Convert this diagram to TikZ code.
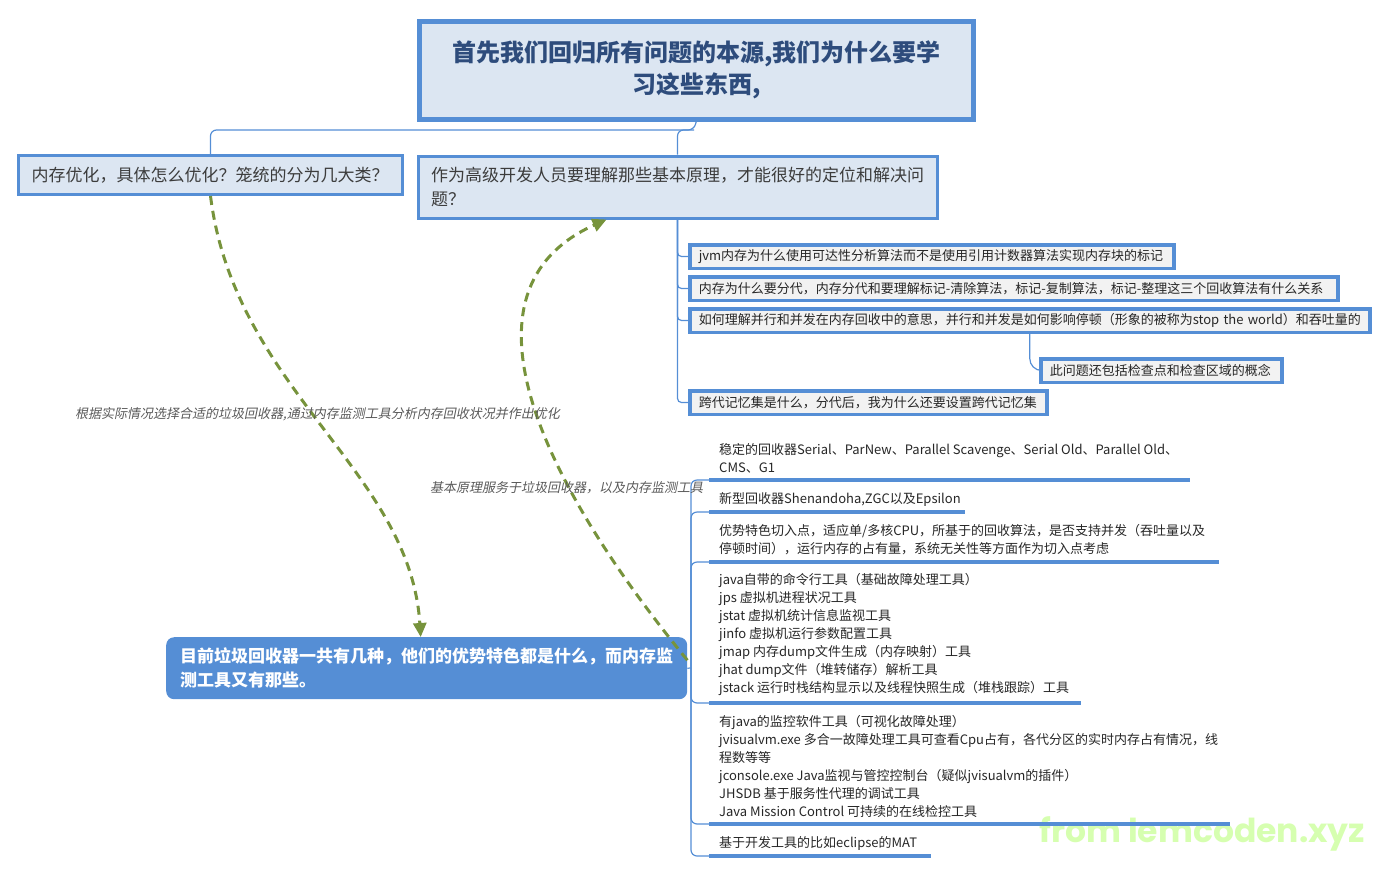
\documentclass[tikz,border=0pt]{standalone}
\usepackage{fontspec}
\setmainfont{Noto Sans CJK SC}
\newfontfamily\slfont{Noto Sans CJK SC}[FakeSlant=0.2]
\newfontfamily\wmfont{Poppins}
\usetikzlibrary{arrows.meta,backgrounds}
\definecolor{bblue}{RGB}{85,142,213}
\definecolor{lblue}{RGB}{220,230,242}
\definecolor{lgray}{RGB}{242,242,242}
\definecolor{ttblue}{RGB}{46,76,124}
\definecolor{tgray}{RGB}{60,60,60}
\definecolor{dgreen}{RGB}{119,147,60}
\definecolor{wmgreen}{RGB}{214,255,176}
\definecolor{lblgray}{RGB}{89,89,89}
\newcommand{\fsz}[2]{\fontsize{#1}{#2}\selectfont}
\begin{document}
\begin{tikzpicture}[x=1pt,y=-1pt,
 conn/.style={draw=bblue, line width=1.2pt},
 topbox/.style={draw=bblue, fill=lblue, line width=3pt, anchor=north west, inner xsep=13pt, inner ysep=0pt, align=left, text=tgray, font=\fsz{17}{24}},
 qbox/.style={draw=bblue, fill=lgray, line width=3.5pt, anchor=north west, inner xsep=9pt, inner ysep=0pt, align=left, text=black!85, font=\fsz{13}{18}, minimum height=23.5pt},
 itemtxt/.style={anchor=west, inner sep=0pt, align=left, text=black!85, font=\fsz{13}{18}},
 uline/.style={draw=bblue, line width=3.5pt},
 dashc/.style={draw=dgreen, line width=3pt, dash pattern=on 9pt off 6pt, -{Triangle[length=14pt,width=13pt]}},
 lbl/.style={anchor=west, inner sep=0pt, text=lblgray, font=\slfont\fsz{13}{16}}
]
\useasboundingbox (0,0) rectangle (1388,873);

% title
\node[draw=bblue, fill=lblue, line width=4.5pt, anchor=north west, minimum width=554pt, minimum height=98pt,
      text width=540pt, align=center, inner sep=0pt, text=ttblue, font=\bfseries\fsz{24}{32}]
  (title) at (417,19) {首先我们回归所有问题的本源,我们为什么要学\\习这些东西,};

% first level
\node[topbox, minimum width=384pt, minimum height=39pt, text width=358pt] (left) at (17,154)
  {内存优化，具体怎么优化？笼统的分为几大类？};
\node[topbox, minimum width=519pt, minimum height=62pt, text width=493pt] (mid) at (416.5,154.5)
  {作为高级开发人员要理解那些基本原理，才能很好的定位和解决问\\题？};

% question boxes
\node[qbox, minimum width=484pt, text width=466pt] (r1) at (688,243)
  {jvm内存为什么使用可达性分析算法而不是使用引用计数器算法实现内存块的标记};
\node[qbox, minimum width=648pt, text width=630pt] (r2) at (688,275)
  {内存为什么要分代，内存分代和要理解标记-清除算法，标记-复制算法，标记-整理这三个回收算法有什么关系};
\node[qbox, minimum width=680pt, text width=662pt] (r3) at (688,307)
  {如何理解并行和并发在内存回收中的意思，并行和并发是如何影响停顿（形象的被称为stop~the~world）和吞吐量的};
\node[qbox, minimum width=241pt, text width=223pt] (sub) at (1039,357)
  {此问题还包括检查点和检查区域的概念};
\node[qbox, minimum width=357pt, text width=339pt] (r5) at (688,389)
  {跨代记忆集是什么，分代后，我为什么还要设置跨代记忆集};

% bottom node
\node[fill=bblue, rounded corners=8pt, anchor=north west, minimum width=521pt, minimum height=62pt,
      inner xsep=14pt, inner ysep=0pt, text width=493pt, align=left, text=white, font=\bfseries\fsz{17}{24}]
  (bot) at (166,637) {目前垃圾回收器一共有几种，他们的优势特色都是什么，而内存监\\测工具又有那些。};

% watermark
\node[anchor=west, inner sep=0pt, text=wmgreen, font=\wmfont\bfseries\fsz{33}{36}] (wm) at (1039,834) {from lemcoden.xyz};

% items of the bottom node
\node[itemtxt] (i1) at (719,458) {稳定的回收器Serial、ParNew、Parallel Scavenge、Serial Old、Parallel Old、\\CMS、G1};
\node[itemtxt] (i2) at (719,499) {新型回收器Shenandoha,ZGC以及Epsilon};
\node[itemtxt] (i3) at (719,540) {优势特色切入点，适应单/多核CPU，所基于的回收算法，是否支持并发（吞吐量以及\\停顿时间），运行内存的占有量，系统无关性等方面作为切入点考虑};
\node[itemtxt] (i4) at (719,634) {java自带的命令行工具（基础故障处理工具）\\jps 虚拟机进程状况工具\\jstat 虚拟机统计信息监视工具\\jinfo 虚拟机运行参数配置工具\\jmap 内存dump文件生成（内存映射）工具\\jhat dump文件（堆转储存）解析工具\\jstack 运行时栈结构显示以及线程快照生成（堆栈跟踪）工具};
\node[itemtxt] (i5) at (719,766) {有java的监控软件工具（可视化故障处理）\\jvisualvm.exe 多合一故障处理工具可查看Cpu占有，各代分区的实时内存占有情况，线\\程数等等\\jconsole.exe Java监视与管控控制台（疑似jvisualvm的插件）\\JHSDB 基于服务性代理的调试工具\\Java Mission Control 可持续的在线检控工具};
\node[itemtxt] (i6) at (719,843) {基于开发工具的比如eclipse的MAT};

% underline coordinates
\coordinate (u1) at (709,480); \coordinate (e1) at (1190,480);
\coordinate (u2) at (709,512); \coordinate (e2) at (965,512);
\coordinate (u3) at (709,562); \coordinate (e3) at (1219,562);
\coordinate (u4) at (709,703); \coordinate (e4) at (1081,703);
\coordinate (u5) at (709,824); \coordinate (e5) at (1230,824);
\coordinate (u6) at (709,856); \coordinate (e6) at (931,856);
\foreach \k in {1,...,6} { \draw[uline] (u\k) -- (e\k); }

% connectors (behind)
\begin{scope}[on background layer]
\coordinate (j) at (694,130);
\draw[conn, rounded corners=6pt] (title.south) -- (j) -| (left.north);
\draw[conn, rounded corners=6pt] (j) -| (mid.north);
\foreach \r in {r1,r2,r3,r5} { \draw[conn, rounded corners=4pt] (mid.south) |- (\r.west); }
\draw[conn, rounded corners=12pt] (r3.south) |- (sub.west);
\coordinate (trunk) at (691,668);
\draw[conn] (bot.east) -- (trunk);
\foreach \k in {1,...,6} { \draw[conn, rounded corners=6pt] (trunk) |- (u\k); }
\end{scope}

% dashed relations
\draw[dashc] (left.south) .. controls (235,390) and (410,470) .. ([xshift=-6pt]bot.north);
\draw[dashc] ([yshift=8pt]bot.east) .. controls (540,480) and (450,290) .. ([xshift=-71pt]mid.south);

% labels
\node[lbl] (l1) at (75,414) {根据实际情况选择合适的垃圾回收器,通过内存监测工具分析内存回收状况并作出优化};
\node[lbl] (l2) at (430,488) {基本原理服务于垃圾回收器，以及内存监测工具};
\end{tikzpicture}
\end{document}
